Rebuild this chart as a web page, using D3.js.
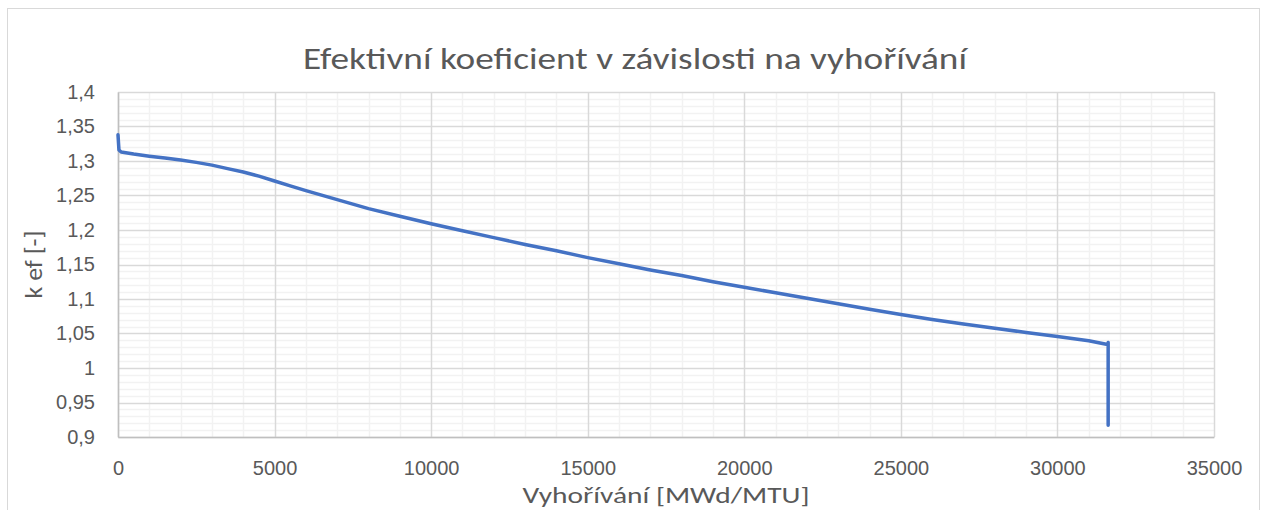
<!DOCTYPE html>
<html>
<head>
<meta charset="utf-8">
<script src="https://cdn.jsdelivr.net/npm/d3@7"></script>
<style>
  body { margin: 0; background: #fff; }
  svg { display: block; font-family: Carlito, "Liberation Sans", "Open Sans", sans-serif; }
</style>
</head>
<body>
<div class="chart--container"></div>
<script>
// burnup [MWd/MTU]
const burnup = [0, 30, 100, 500, 1000, 1500, 2000, 2500, 3000, 3500, 4000, 4500, 5000, 5500, 6000, 6500,
                7000, 7500, 8000, 9000, 10000, 11000, 12000, 13000, 14000, 15000, 16000, 17000, 18000,
                19000, 20000, 21000, 22000, 23000, 24000, 25000, 26000, 27000, 28000, 29000, 30000,
                31000, 31600, 31620, 31620];
// k ef [-]
const kef = [1.338, 1.316, 1.313, 1.310, 1.307, 1.3045, 1.3015, 1.298, 1.294, 1.289, 1.284, 1.278, 1.271,
             1.264, 1.257, 1.2505, 1.244, 1.2375, 1.231, 1.220, 1.209, 1.199, 1.189, 1.179, 1.170, 1.160,
             1.151, 1.142, 1.134, 1.125, 1.117, 1.109, 1.101, 1.093, 1.0852, 1.0775, 1.0703, 1.0638, 1.0576,
             1.0515, 1.0455, 1.0396, 1.034, 1.037, 0.917];
const xTicks = [0, 5000, 10000, 15000, 20000, 25000, 30000, 35000];
const yTicks = [0.9, 0.95, 1, 1.05, 1.1, 1.15, 1.2, 1.25, 1.3, 1.35, 1.4];

const titleText = 'Efektivní koeficient v závislosti na vyhořívání',
      xTitle = 'Vyhořívání [MWd/MTU]',
      yTitle = 'k ef [-]';

let W = 1262, H = 510,
    m = {l: 118, r: 48, t: 92, b: 73},     // plot area 118..1214, 92..437
    width = W - m.l - m.r,
    height = H - m.t - m.b,
    fmt = v => String(v).replace('.', ',');

let svg = d3.select('.chart--container')
            .append('svg')
            .attr('width', W)
            .attr('height', H);

// chart frame
svg.append('rect')
    .attr('x', 7.5).attr('y', 8.5)
    .attr('width', 1252).attr('height', 520)
    .attr('fill', '#fff')
    .attr('stroke', '#d9d9d9');

let g = svg.append('g').attr('transform', `translate(${m.l}, ${m.t})`);

let x = d3.scaleLinear().domain([0, 35000]).range([0, width]),
    y = d3.scaleLinear().domain([0.9, 1.4]).range([height, 0]);

// minor grid
g.append('g').selectAll('line')
    .data(d3.range(0, 35001, 1000).filter(v => v % 5000))
    .enter().append('line')
    .attr('x1', d => Math.round(x(d)) + 0.5).attr('x2', d => Math.round(x(d)) + 0.5)
    .attr('y1', 0).attr('y2', height)
    .attr('stroke', '#f2f2f2').attr('stroke-width', 1.5);
g.append('g').selectAll('line')
    .data(d3.range(90, 141).filter(v => v % 5).map(v => v / 100))
    .enter().append('line')
    .attr('y1', d => Math.round(y(d)) + 0.5).attr('y2', d => Math.round(y(d)) + 0.5)
    .attr('x1', 0).attr('x2', width)
    .attr('stroke', '#f2f2f2').attr('stroke-width', 1.5);

// major grid
g.append('g').selectAll('line')
    .data(xTicks)
    .enter().append('line')
    .attr('x1', d => Math.round(x(d)) + 0.5).attr('x2', d => Math.round(x(d)) + 0.5)
    .attr('y1', 0).attr('y2', height)
    .attr('stroke', '#d9d9d9').attr('stroke-width', 1.5);
g.append('g').selectAll('line')
    .data(yTicks)
    .enter().append('line')
    .attr('y1', d => Math.round(y(d)) + 0.5).attr('y2', d => Math.round(y(d)) + 0.5)
    .attr('x1', 0).attr('x2', width)
    .attr('stroke', '#d9d9d9').attr('stroke-width', 1.5);

// axes
let xAxis = g.append('g')
    .attr('transform', `translate(0, ${height})`)
    .call(d3.axisBottom(x).tickValues(xTicks).tickFormat(d => d).tickSize(0).tickPadding(24));
let yAxis = g.append('g')
    .call(d3.axisLeft(y).tickValues(yTicks).tickFormat(fmt).tickSize(0).tickPadding(23));
[xAxis, yAxis].forEach(a => {
    a.select('.domain').attr('stroke', '#bfbfbf').attr('stroke-width', 1.5);
    a.selectAll('text').attr('fill', '#595959').style('font-size', '20px').attr('font-family', null);
});
xAxis.selectAll('text').attr('dy', '0.35em').attr('y', 31);

// data line
g.append('path')
    .datum(burnup.map((b, i) => [b, kef[i]]))
    .attr('fill', 'none')
    .attr('stroke', '#4472c4')
    .attr('stroke-width', 3.5)
    .attr('stroke-linejoin', 'round')
    .attr('stroke-linecap', 'round')
    .attr('d', d3.line().x(d => x(d[0])).y(d => y(d[1])));

// title
svg.append('text')
    .attr('x', 635).attr('y', 69)
    .attr('text-anchor', 'middle')
    .attr('fill', '#595959')
    .style('font-size', '31px')
    .attr('textLength', 664).attr('lengthAdjust', 'spacingAndGlyphs')
    .text(titleText);

// axis titles
svg.append('text')
    .attr('x', m.l + width / 2).attr('y', 503)
    .attr('text-anchor', 'middle')
    .attr('fill', '#595959')
    .style('font-size', '23px')
    .attr('textLength', 287).attr('lengthAdjust', 'spacingAndGlyphs')
    .text(xTitle);

svg.append('text')
    .attr('transform', `translate(42, ${m.t + height / 2}) rotate(-90)`)
    .attr('text-anchor', 'middle')
    .attr('fill', '#595959')
    .style('font-size', '24px')
    .attr('textLength', 68).attr('lengthAdjust', 'spacingAndGlyphs')
    .text(yTitle);
</script>
</body>
</html>
